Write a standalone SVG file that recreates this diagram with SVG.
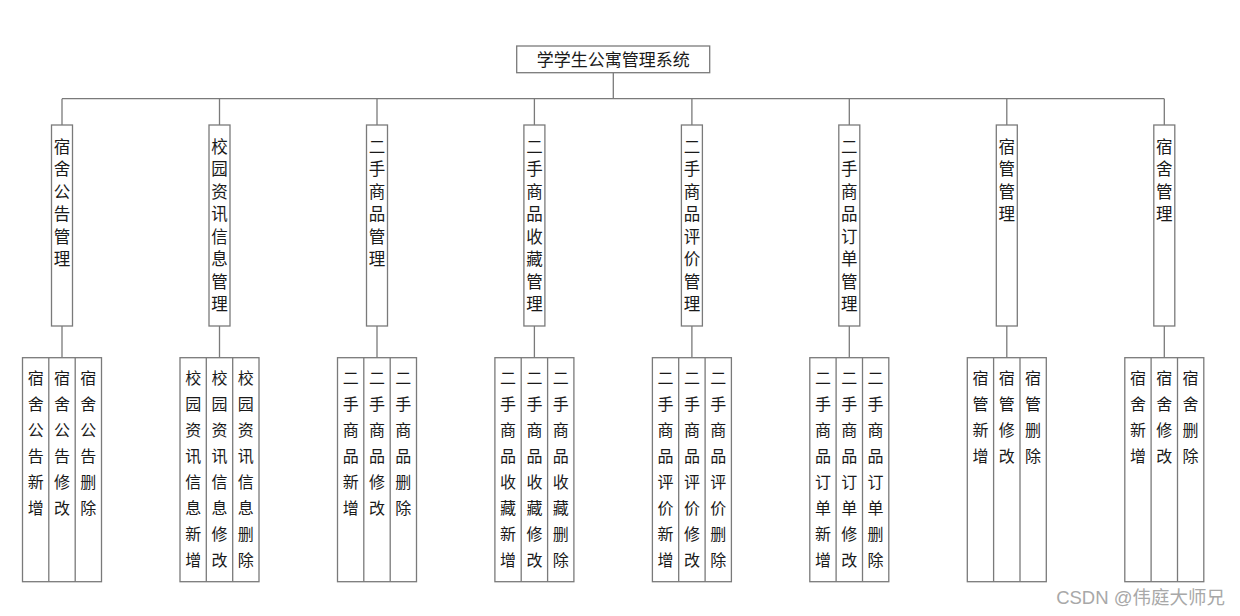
<svg xmlns="http://www.w3.org/2000/svg" width="1240" height="616" viewBox="0 0 1240 616">
<style>
.box{fill:#fff;stroke:#7a7a7a;stroke-width:1.3}
.ln{fill:none;stroke:#7a7a7a;stroke-width:1.3}
.t{font-family:"Noto Sans CJK SC","Noto Sans",sans-serif;font-size:16px;fill:#1a1a1a;text-anchor:middle}
.t2{font-family:"Noto Sans CJK SC","Noto Sans",sans-serif;font-size:16.5px;fill:#1a1a1a;text-anchor:middle}
.r{font-family:"Noto Sans CJK SC","Noto Sans",sans-serif;font-size:17px;fill:#1a1a1a;text-anchor:middle}
.wm{font-family:"Liberation Sans","Noto Sans CJK SC",sans-serif;font-size:18.5px;fill:#a8a8a8;text-anchor:end}
</style>
<rect width="1240" height="616" fill="#fff"/>
<g id="connectors">
<path class="ln" d="M613.3 72.7V98.7M62 98.7H1164.3"/>
<path class="ln" d="M62 98.7V125M219.5 98.7V125M377 98.7V125M534.4 98.7V125M691.9 98.7V125M849.3 98.7V125M1006.8 98.7V125M1164.3 98.7V125"/>
<path class="ln" d="M62 326V357.7M219.5 326V357.7M377 326V357.7M534.4 326V357.7M691.9 326V357.7M849.3 326V357.7M1006.8 326V357.7M1164.3 326V357.7"/>
</g>
<g id="root">
<rect class="box" x="516.7" y="46" width="193" height="26.7"/>
<text class="r" x="613.2" y="66">学学生公寓管理系统</text>
</g>
<g id="n1">
<rect class="box" x="51.5" y="125" width="21" height="201"/>
<text class="t2"><tspan x="62" y="152.7">宿</tspan><tspan x="62" y="175.2">舍</tspan><tspan x="62" y="197.7">公</tspan><tspan x="62" y="220.2">告</tspan><tspan x="62" y="242.7">管</tspan><tspan x="62" y="265.2">理</tspan></text>
</g>
<g id="n2">
<rect class="box" x="209" y="125" width="21" height="201"/>
<text class="t2"><tspan x="219.5" y="152.7">校</tspan><tspan x="219.5" y="175.2">园</tspan><tspan x="219.5" y="197.7">资</tspan><tspan x="219.5" y="220.2">讯</tspan><tspan x="219.5" y="242.7">信</tspan><tspan x="219.5" y="265.2">息</tspan><tspan x="219.5" y="287.7">管</tspan><tspan x="219.5" y="310.2">理</tspan></text>
</g>
<g id="n3">
<rect class="box" x="366.5" y="125" width="21" height="201"/>
<text class="t2"><tspan x="377" y="152.7">二</tspan><tspan x="377" y="175.2">手</tspan><tspan x="377" y="197.7">商</tspan><tspan x="377" y="220.2">品</tspan><tspan x="377" y="242.7">管</tspan><tspan x="377" y="265.2">理</tspan></text>
</g>
<g id="n4">
<rect class="box" x="523.9" y="125" width="21" height="201"/>
<text class="t2"><tspan x="534.4" y="152.7">二</tspan><tspan x="534.4" y="175.2">手</tspan><tspan x="534.4" y="197.7">商</tspan><tspan x="534.4" y="220.2">品</tspan><tspan x="534.4" y="242.7">收</tspan><tspan x="534.4" y="265.2">藏</tspan><tspan x="534.4" y="287.7">管</tspan><tspan x="534.4" y="310.2">理</tspan></text>
</g>
<g id="n5">
<rect class="box" x="681.4" y="125" width="21" height="201"/>
<text class="t2"><tspan x="691.9" y="152.7">二</tspan><tspan x="691.9" y="175.2">手</tspan><tspan x="691.9" y="197.7">商</tspan><tspan x="691.9" y="220.2">品</tspan><tspan x="691.9" y="242.7">评</tspan><tspan x="691.9" y="265.2">价</tspan><tspan x="691.9" y="287.7">管</tspan><tspan x="691.9" y="310.2">理</tspan></text>
</g>
<g id="n6">
<rect class="box" x="838.8" y="125" width="21" height="201"/>
<text class="t2"><tspan x="849.3" y="152.7">二</tspan><tspan x="849.3" y="175.2">手</tspan><tspan x="849.3" y="197.7">商</tspan><tspan x="849.3" y="220.2">品</tspan><tspan x="849.3" y="242.7">订</tspan><tspan x="849.3" y="265.2">单</tspan><tspan x="849.3" y="287.7">管</tspan><tspan x="849.3" y="310.2">理</tspan></text>
</g>
<g id="n7">
<rect class="box" x="996.3" y="125" width="21" height="201"/>
<text class="t2"><tspan x="1006.8" y="152.7">宿</tspan><tspan x="1006.8" y="175.2">管</tspan><tspan x="1006.8" y="197.7">管</tspan><tspan x="1006.8" y="220.2">理</tspan></text>
</g>
<g id="n8">
<rect class="box" x="1153.8" y="125" width="21" height="201"/>
<text class="t2"><tspan x="1164.3" y="152.7">宿</tspan><tspan x="1164.3" y="175.2">舍</tspan><tspan x="1164.3" y="197.7">管</tspan><tspan x="1164.3" y="220.2">理</tspan></text>
</g>
<g id="g1">
<rect class="box" x="22.5" y="357.7" width="79" height="224"/>
<path class="ln" d="M48.8 357.7V581.7M75.2 357.7V581.7"/>
<text class="t"><tspan x="35.7" y="384.3">宿</tspan><tspan x="35.7" y="410.3">舍</tspan><tspan x="35.7" y="436.3">公</tspan><tspan x="35.7" y="462.3">告</tspan><tspan x="35.7" y="488.3">新</tspan><tspan x="35.7" y="514.3">增</tspan></text>
<text class="t"><tspan x="62" y="384.3">宿</tspan><tspan x="62" y="410.3">舍</tspan><tspan x="62" y="436.3">公</tspan><tspan x="62" y="462.3">告</tspan><tspan x="62" y="488.3">修</tspan><tspan x="62" y="514.3">改</tspan></text>
<text class="t"><tspan x="88.3" y="384.3">宿</tspan><tspan x="88.3" y="410.3">舍</tspan><tspan x="88.3" y="436.3">公</tspan><tspan x="88.3" y="462.3">告</tspan><tspan x="88.3" y="488.3">删</tspan><tspan x="88.3" y="514.3">除</tspan></text>
</g>
<g id="g2">
<rect class="box" x="180" y="357.7" width="79" height="224"/>
<path class="ln" d="M206.3 357.7V581.7M232.7 357.7V581.7"/>
<text class="t"><tspan x="193.2" y="384.3">校</tspan><tspan x="193.2" y="410.3">园</tspan><tspan x="193.2" y="436.3">资</tspan><tspan x="193.2" y="462.3">讯</tspan><tspan x="193.2" y="488.3">信</tspan><tspan x="193.2" y="514.3">息</tspan><tspan x="193.2" y="540.3">新</tspan><tspan x="193.2" y="566.3">增</tspan></text>
<text class="t"><tspan x="219.5" y="384.3">校</tspan><tspan x="219.5" y="410.3">园</tspan><tspan x="219.5" y="436.3">资</tspan><tspan x="219.5" y="462.3">讯</tspan><tspan x="219.5" y="488.3">信</tspan><tspan x="219.5" y="514.3">息</tspan><tspan x="219.5" y="540.3">修</tspan><tspan x="219.5" y="566.3">改</tspan></text>
<text class="t"><tspan x="245.8" y="384.3">校</tspan><tspan x="245.8" y="410.3">园</tspan><tspan x="245.8" y="436.3">资</tspan><tspan x="245.8" y="462.3">讯</tspan><tspan x="245.8" y="488.3">信</tspan><tspan x="245.8" y="514.3">息</tspan><tspan x="245.8" y="540.3">删</tspan><tspan x="245.8" y="566.3">除</tspan></text>
</g>
<g id="g3">
<rect class="box" x="337.5" y="357.7" width="79" height="224"/>
<path class="ln" d="M363.8 357.7V581.7M390.2 357.7V581.7"/>
<text class="t"><tspan x="350.7" y="384.3">二</tspan><tspan x="350.7" y="410.3">手</tspan><tspan x="350.7" y="436.3">商</tspan><tspan x="350.7" y="462.3">品</tspan><tspan x="350.7" y="488.3">新</tspan><tspan x="350.7" y="514.3">增</tspan></text>
<text class="t"><tspan x="377" y="384.3">二</tspan><tspan x="377" y="410.3">手</tspan><tspan x="377" y="436.3">商</tspan><tspan x="377" y="462.3">品</tspan><tspan x="377" y="488.3">修</tspan><tspan x="377" y="514.3">改</tspan></text>
<text class="t"><tspan x="403.3" y="384.3">二</tspan><tspan x="403.3" y="410.3">手</tspan><tspan x="403.3" y="436.3">商</tspan><tspan x="403.3" y="462.3">品</tspan><tspan x="403.3" y="488.3">删</tspan><tspan x="403.3" y="514.3">除</tspan></text>
</g>
<g id="g4">
<rect class="box" x="494.9" y="357.7" width="79" height="224"/>
<path class="ln" d="M521.2 357.7V581.7M547.6 357.7V581.7"/>
<text class="t"><tspan x="508.1" y="384.3">二</tspan><tspan x="508.1" y="410.3">手</tspan><tspan x="508.1" y="436.3">商</tspan><tspan x="508.1" y="462.3">品</tspan><tspan x="508.1" y="488.3">收</tspan><tspan x="508.1" y="514.3">藏</tspan><tspan x="508.1" y="540.3">新</tspan><tspan x="508.1" y="566.3">增</tspan></text>
<text class="t"><tspan x="534.4" y="384.3">二</tspan><tspan x="534.4" y="410.3">手</tspan><tspan x="534.4" y="436.3">商</tspan><tspan x="534.4" y="462.3">品</tspan><tspan x="534.4" y="488.3">收</tspan><tspan x="534.4" y="514.3">藏</tspan><tspan x="534.4" y="540.3">修</tspan><tspan x="534.4" y="566.3">改</tspan></text>
<text class="t"><tspan x="560.7" y="384.3">二</tspan><tspan x="560.7" y="410.3">手</tspan><tspan x="560.7" y="436.3">商</tspan><tspan x="560.7" y="462.3">品</tspan><tspan x="560.7" y="488.3">收</tspan><tspan x="560.7" y="514.3">藏</tspan><tspan x="560.7" y="540.3">删</tspan><tspan x="560.7" y="566.3">除</tspan></text>
</g>
<g id="g5">
<rect class="box" x="652.4" y="357.7" width="79" height="224"/>
<path class="ln" d="M678.7 357.7V581.7M705.1 357.7V581.7"/>
<text class="t"><tspan x="665.6" y="384.3">二</tspan><tspan x="665.6" y="410.3">手</tspan><tspan x="665.6" y="436.3">商</tspan><tspan x="665.6" y="462.3">品</tspan><tspan x="665.6" y="488.3">评</tspan><tspan x="665.6" y="514.3">价</tspan><tspan x="665.6" y="540.3">新</tspan><tspan x="665.6" y="566.3">增</tspan></text>
<text class="t"><tspan x="691.9" y="384.3">二</tspan><tspan x="691.9" y="410.3">手</tspan><tspan x="691.9" y="436.3">商</tspan><tspan x="691.9" y="462.3">品</tspan><tspan x="691.9" y="488.3">评</tspan><tspan x="691.9" y="514.3">价</tspan><tspan x="691.9" y="540.3">修</tspan><tspan x="691.9" y="566.3">改</tspan></text>
<text class="t"><tspan x="718.2" y="384.3">二</tspan><tspan x="718.2" y="410.3">手</tspan><tspan x="718.2" y="436.3">商</tspan><tspan x="718.2" y="462.3">品</tspan><tspan x="718.2" y="488.3">评</tspan><tspan x="718.2" y="514.3">价</tspan><tspan x="718.2" y="540.3">删</tspan><tspan x="718.2" y="566.3">除</tspan></text>
</g>
<g id="g6">
<rect class="box" x="809.8" y="357.7" width="79" height="224"/>
<path class="ln" d="M836.1 357.7V581.7M862.5 357.7V581.7"/>
<text class="t"><tspan x="823" y="384.3">二</tspan><tspan x="823" y="410.3">手</tspan><tspan x="823" y="436.3">商</tspan><tspan x="823" y="462.3">品</tspan><tspan x="823" y="488.3">订</tspan><tspan x="823" y="514.3">单</tspan><tspan x="823" y="540.3">新</tspan><tspan x="823" y="566.3">增</tspan></text>
<text class="t"><tspan x="849.3" y="384.3">二</tspan><tspan x="849.3" y="410.3">手</tspan><tspan x="849.3" y="436.3">商</tspan><tspan x="849.3" y="462.3">品</tspan><tspan x="849.3" y="488.3">订</tspan><tspan x="849.3" y="514.3">单</tspan><tspan x="849.3" y="540.3">修</tspan><tspan x="849.3" y="566.3">改</tspan></text>
<text class="t"><tspan x="875.6" y="384.3">二</tspan><tspan x="875.6" y="410.3">手</tspan><tspan x="875.6" y="436.3">商</tspan><tspan x="875.6" y="462.3">品</tspan><tspan x="875.6" y="488.3">订</tspan><tspan x="875.6" y="514.3">单</tspan><tspan x="875.6" y="540.3">删</tspan><tspan x="875.6" y="566.3">除</tspan></text>
</g>
<g id="g7">
<rect class="box" x="967.3" y="357.7" width="79" height="224"/>
<path class="ln" d="M993.6 357.7V581.7M1020 357.7V581.7"/>
<text class="t"><tspan x="980.5" y="384.3">宿</tspan><tspan x="980.5" y="410.3">管</tspan><tspan x="980.5" y="436.3">新</tspan><tspan x="980.5" y="462.3">增</tspan></text>
<text class="t"><tspan x="1006.8" y="384.3">宿</tspan><tspan x="1006.8" y="410.3">管</tspan><tspan x="1006.8" y="436.3">修</tspan><tspan x="1006.8" y="462.3">改</tspan></text>
<text class="t"><tspan x="1033.1" y="384.3">宿</tspan><tspan x="1033.1" y="410.3">管</tspan><tspan x="1033.1" y="436.3">删</tspan><tspan x="1033.1" y="462.3">除</tspan></text>
</g>
<g id="g8">
<rect class="box" x="1124.8" y="357.7" width="79" height="224"/>
<path class="ln" d="M1151.1 357.7V581.7M1177.5 357.7V581.7"/>
<text class="t"><tspan x="1138" y="384.3">宿</tspan><tspan x="1138" y="410.3">舍</tspan><tspan x="1138" y="436.3">新</tspan><tspan x="1138" y="462.3">增</tspan></text>
<text class="t"><tspan x="1164.3" y="384.3">宿</tspan><tspan x="1164.3" y="410.3">舍</tspan><tspan x="1164.3" y="436.3">修</tspan><tspan x="1164.3" y="462.3">改</tspan></text>
<text class="t"><tspan x="1190.6" y="384.3">宿</tspan><tspan x="1190.6" y="410.3">舍</tspan><tspan x="1190.6" y="436.3">删</tspan><tspan x="1190.6" y="462.3">除</tspan></text>
</g>
<text class="wm" x="1225" y="604">CSDN @伟庭大师兄</text>
</svg>
